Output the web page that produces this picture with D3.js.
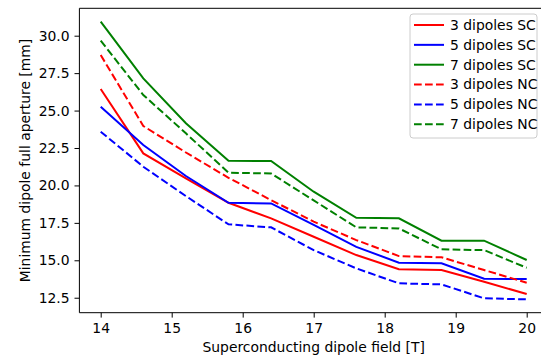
<!DOCTYPE html>
<html>
<head>
<meta charset="utf-8">
<script src="https://cdn.jsdelivr.net/npm/d3@7"></script>
<style>
  body { margin: 0; background: #fff; }
  svg text { font-family: "DejaVu Sans", sans-serif; }
</style>
</head>
<body>
<svg id="chart" width="541" height="357"></svg>
<script>
// field values [T]
var fields = [14, 14.6, 15.2, 15.8, 16.4, 17, 17.6, 18.2, 18.8, 19.4, 20]

// minimum full aperture [mm]
var sc3 = [26.44, 22.14, 20.47, 18.84, 17.8, 16.57, 15.35, 14.4, 14.35, 13.57, 12.75]
var sc5 = [25.26, 22.7, 20.63, 18.84, 18.8, 17.36, 15.9, 14.84, 14.8, 13.77, 13.75]
var sc7 = [30.94, 27.15, 24.15, 21.65, 21.63, 19.58, 17.84, 17.8, 16.31, 16.31, 15.02]
var nc3 = [28.71, 23.97, 22.2, 20.51, 19.02, 17.58, 16.35, 15.28, 15.2, 14.35, 13.5]
var nc5 = [23.59, 21.25, 19.29, 17.4, 17.2, 15.68, 14.46, 13.46, 13.39, 12.46, 12.39]
var nc7 = [29.67, 26.04, 23.48, 20.85, 20.8, 19.0, 17.2, 17.13, 15.73, 15.68, 14.5]

var xTicks = [14, 15, 16, 17, 18, 19, 20]
var yTicks = [12.5, 15.0, 17.5, 20.0, 22.5, 25.0, 27.5, 30.0]

var dashed = "7.7,3.3"
var series = [
    {name: "3 dipoles SC", values: sc3, color: "#ff0000", dash: null},
    {name: "5 dipoles SC", values: sc5, color: "#0000ff", dash: null},
    {name: "7 dipoles SC", values: sc7, color: "#008000", dash: null},
    {name: "3 dipoles NC", values: nc3, color: "#ff0000", dash: dashed},
    {name: "5 dipoles NC", values: nc5, color: "#0000ff", dash: dashed},
    {name: "7 dipoles NC", values: nc7, color: "#008000", dash: dashed}
]

var svg = d3.select("#chart")
var box = {left: 79.4, right: 548, top: 8.3, bottom: 312.7}
var fontSize = "13.9px"

var x = d3.scaleLinear().domain([13.7, 20.3]).range([box.left, box.right])
var y = d3.scaleLinear().domain([11.5, 31.83]).range([box.bottom, box.top])

var xAxis = svg.append("g")
    .attr("transform", "translate(0," + box.bottom + ")")
    .call(d3.axisBottom(x).tickValues(xTicks).tickFormat(d3.format("d")).tickSize(4.9).tickPadding(6))
var yAxis = svg.append("g")
    .attr("transform", "translate(" + box.left + ",0)")
    .call(d3.axisLeft(y).tickValues(yTicks).tickFormat(d3.format(".1f")).tickSize(4.9).tickPadding(4.9))

;[xAxis, yAxis].forEach((g) => {
    g.select(".domain").remove()
    g.selectAll("line").attr("stroke", "#000").attr("stroke-width", 1)
    g.selectAll("text").attr("fill", "#000").style("font-size", fontSize)
})

// spines
svg.append("path")
    .attr("d", "M" + box.left + "," + box.top + "V" + box.bottom + "H" + box.right +
        "M" + box.left + "," + box.top + "H" + box.right)
    .attr("fill", "none")
    .attr("stroke", "#000")
    .attr("stroke-width", 1)

var line = d3.line()
    .x((d, i) => x(fields[i]))
    .y((d) => y(d))

var plot = svg.append("g")
series.forEach((s) => {
    plot.append("path")
        .datum(s.values)
        .attr("d", line)
        .attr("fill", "none")
        .attr("stroke", s.color)
        .attr("stroke-width", 2)
        .attr("stroke-dasharray", s.dash)
})

// axis labels
svg.append("text")
    .attr("x", (box.left + box.right) / 2)
    .attr("y", 352)
    .attr("text-anchor", "middle")
    .style("font-size", fontSize)
    .text("Superconducting dipole field [T]")

svg.append("text")
    .attr("transform", "translate(30," + (box.top + box.bottom) / 2 + ") rotate(-90)")
    .attr("text-anchor", "middle")
    .style("font-size", fontSize)
    .text("Minimum dipole full aperture [mm]")

// legend
var legend = svg.append("g")
legend.append("rect")
    .attr("x", 410).attr("y", 14)
    .attr("width", 127).attr("height", 124)
    .attr("rx", 3)
    .attr("fill", "#fff").attr("fill-opacity", 0.8)
    .attr("stroke", "#cccccc")

var item = legend.selectAll(".item")
    .data(series)
    .enter().append("g")
    .attr("transform", (d, i) => "translate(0," + (25 + i * 19.85) + ")")

item.append("line")
    .attr("x1", 414).attr("x2", 444)
    .attr("stroke", (d) => d.color)
    .attr("stroke-width", 2)
    .attr("stroke-dasharray", (d) => d.dash)

item.append("text")
    .attr("x", 450)
    .attr("dy", "0.35em")
    .style("font-size", fontSize)
    .text((d) => d.name)
</script>
</body>
</html>
